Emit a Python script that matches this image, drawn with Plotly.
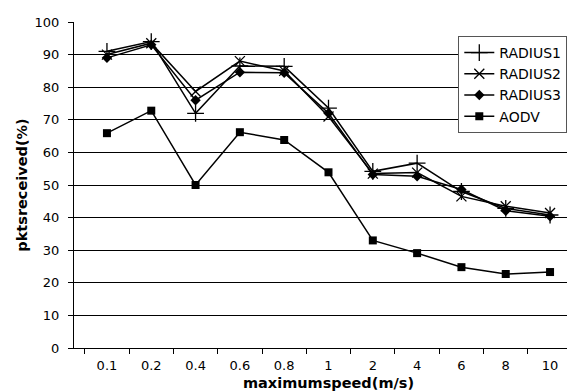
import plotly.graph_objects as go

categories = ["0.1", "0.2", "0.4", "0.6", "0.8", "1", "2", "4", "6", "8", "10"]
radius1 = [91, 94, 72, 86.5, 86.4, 73.6, 54.2, 56.7, 48, 42.8, 40.8]
radius2 = [90, 93.5, 78.7, 88, 85, 71, 53.5, 53.8, 46.5, 43.5, 41.4]
radius3 = [89, 93, 76, 84.6, 84.4, 72, 53.2, 52.7, 48.6, 42.1, 40.4]
aodv = [65.9, 72.8, 50, 66.2, 63.8, 53.9, 33, 29.1, 24.8, 22.7, 23.3]
y_ticks = list(range(0, 101, 10))

series = [
    ("RADIUS1", radius1, dict(symbol="cross-thin", size=12, line=dict(color="black", width=1.3), color="black")),
    ("RADIUS2", radius2, dict(symbol="x-thin", size=10, line=dict(color="black", width=1.3), color="black")),
    ("RADIUS3", radius3, dict(symbol="diamond", size=8, color="black")),
    ("AODV", aodv, dict(symbol="square", size=8, color="black")),
]

fig = go.Figure()
for name, vals, marker in series:
    fig.add_trace(go.Scatter(
        x=categories, y=vals, name=name, mode="lines+markers",
        line=dict(color="black", width=1.5), marker=marker,
    ))

font_family = "DejaVu Sans, sans-serif"
fig.update_layout(
    width=575, height=391,
    margin=dict(l=66, r=0, t=14, b=51),
    paper_bgcolor="white", plot_bgcolor="white",
    font=dict(family=font_family, color="black", size=13),
    showlegend=True,
    legend=dict(
        x=0.755, y=0.957, xanchor="left", yanchor="top",
        bgcolor="white", bordercolor="#555", borderwidth=1,
        font=dict(size=14, family=font_family), itemwidth=30,
        tracegroupgap=0,
    ),
    xaxis=dict(
        type="category", tickson="boundaries", ticks="outside", ticklen=5,
        tickcolor="black", showline=True, linecolor="black", linewidth=1,
        showgrid=False, tickfont=dict(size=13), ticklabelstandoff=5,
        title=dict(text="<b>maximumspeed(m/s)</b>", font=dict(size=14.5), standoff=6),
    ),
    yaxis=dict(
        range=[0, 100], tickvals=y_ticks, ticks="outside", ticklen=5,
        tickcolor="black", showline=True, linecolor="black", linewidth=1,
        showgrid=True, gridcolor="black", gridwidth=1, zeroline=False,
        tickfont=dict(size=13), ticklabelstandoff=6,
        title=dict(text="<b>pktsreceived(%)</b>", font=dict(size=14.5), standoff=3),
    ),
)

fig.write_html("out.html")
